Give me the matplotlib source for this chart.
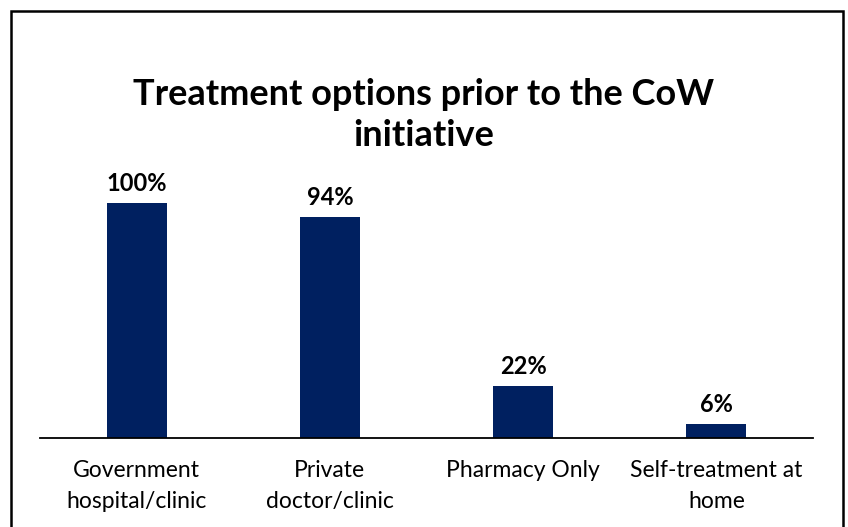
import matplotlib.pyplot as plt
from matplotlib.patches import Rectangle

categories = ["Government\nhospital/clinic", "Private\ndoctor/clinic", "Pharmacy Only", "Self-treatment at\nhome"]
values = [100, 94, 22, 6]
labels = ["100%", "94%", "22%", "6%"]
title = "Treatment options prior to the CoW\ninitiative"

W, H = 848, 527
plt.rcParams['font.family'] = ['Lato', 'DejaVu Sans']

fig = plt.figure(figsize=(W / 100, H / 100), dpi=100)

# outer frame
fig.patches.append(Rectangle((11 / W, -0.01), (843 - 11) / W, (H - 11) / H + 0.01,
                             transform=fig.transFigure, fill=False,
                             edgecolor='black', linewidth=1.8))

ax = fig.add_axes([40 / W, (H - 438) / H, (813 - 40) / W, 235 / H])
x = range(len(categories))
bars = ax.bar(x, values, width=0.31, color='#002060')
ax.set_xlim(-0.5, len(categories) - 0.5)
ax.set_ylim(0, 100)

for b, lab in zip(bars, labels):
    ax.annotate(lab, (b.get_x() + b.get_width() / 2, b.get_height()),
                xytext=(0, 6), textcoords='offset points', ha='center', va='bottom',
                fontsize=17, fontweight='bold')

for s in ['top', 'right', 'left']:
    ax.spines[s].set_visible(False)
ax.spines['bottom'].set_linewidth(1.3)
ax.set_yticks([])
ax.set_xticks(list(x))
ax.set_xticklabels(categories, fontsize=16.5, linespacing=1.55)
ax.tick_params(axis='x', length=0, pad=16)

fig.text(0.5, 1 - 115 / H, title, ha='center', va='center', fontsize=26,
         fontweight='bold', linespacing=1.3)

fig.savefig('out.png', dpi=100)
